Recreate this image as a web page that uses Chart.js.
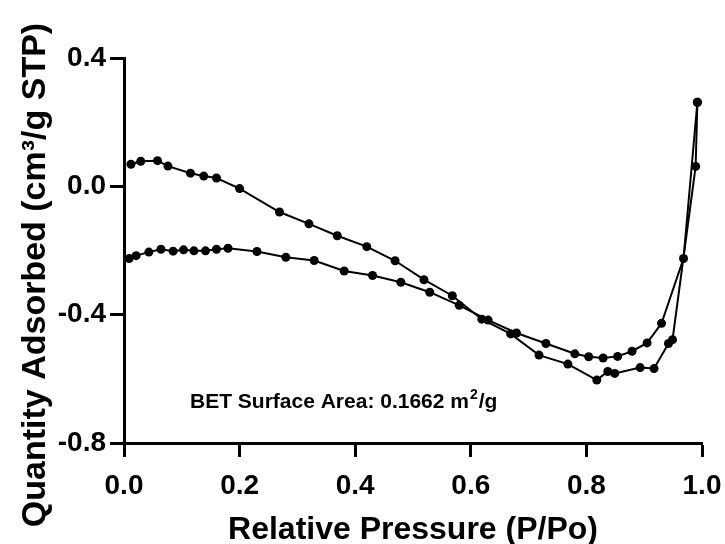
<!DOCTYPE html>
<html>
<head>
<meta charset="utf-8">
<script src="https://cdn.jsdelivr.net/npm/chart.js@4/dist/chart.umd.min.js"></script>
<style>
  body { margin: 0; background: #fff; }
  #chart { display: block; }
</style>
</head>
<body>
<canvas id="chart" width="725" height="544"></canvas>
<script>
// adsorption branch (low P -> high P)
const adsP = [0.009, 0.021, 0.043, 0.064, 0.085, 0.103, 0.121, 0.141, 0.160, 0.180,
  0.230, 0.280, 0.329, 0.381, 0.430, 0.479, 0.529, 0.580, 0.630, 0.679,
  0.730, 0.780, 0.804, 0.829, 0.854, 0.879, 0.905, 0.930, 0.968, 0.992];
const adsQ = [-0.225, -0.216, -0.205, -0.196, -0.202, -0.198, -0.201, -0.201, -0.196, -0.193,
  -0.203, -0.221, -0.231, -0.264, -0.278, -0.299, -0.330, -0.371, -0.417, -0.457,
  -0.490, -0.522, -0.531, -0.535, -0.530, -0.514, -0.488, -0.427, -0.225, 0.262];

// desorption branch (high P -> low P)
const desP = [0.992, 0.989, 0.949, 0.942, 0.917, 0.893, 0.849, 0.837, 0.818, 0.768,
  0.718, 0.669, 0.619, 0.568, 0.519, 0.469, 0.420, 0.369, 0.320, 0.269,
  0.200, 0.160, 0.138, 0.115, 0.076, 0.058, 0.029, 0.012];
const desQ = [0.262, 0.062, -0.478, -0.490, -0.568, -0.565, -0.583, -0.577, -0.604, -0.554,
  -0.526, -0.460, -0.414, -0.341, -0.291, -0.232, -0.188, -0.154, -0.117, -0.080,
  -0.007, 0.026, 0.032, 0.041, 0.063, 0.080, 0.078, 0.069];

const xTicks = [0, 0.2, 0.4, 0.6, 0.8, 1.0];
const yTicks = [-0.8, -0.4, 0.0, 0.4];

const FONT = '"Liberation Sans", Arial, sans-serif';

function pts(xs, ys) {
  return xs.map((x, i) => ({ x: x, y: ys[i] }));
}

const textPlugin = {
  id: 'texts',
  afterDraw(chart) {
    const ctx = chart.ctx;
    const area = chart.chartArea;
    ctx.save();
    ctx.fillStyle = '#000';

    // x title
    ctx.font = 'bold 32px ' + FONT;
    ctx.textAlign = 'center';
    ctx.textBaseline = 'alphabetic';
    ctx.fillText('Relative Pressure (P/Po)', (area.left + area.right) / 2, 539);

    // y title
    ctx.save();
    ctx.font = 'bold 34px ' + FONT;
    ctx.translate(45, 275);
    ctx.rotate(-Math.PI / 2);
    ctx.fillText('Quantity Adsorbed (cm\u00B3/g STP)', 0, 0);
    ctx.restore();

    // BET note
    ctx.textAlign = 'left';
    ctx.font = 'bold 21px ' + FONT;
    let x = 190;
    const y = 408;
    const s1 = 'BET Surface Area: 0.1662 m';
    ctx.fillText(s1, x, y);
    x += ctx.measureText(s1).width + 1;
    ctx.font = 'bold 14px ' + FONT;
    ctx.fillText('2', x, y - 9);
    x += ctx.measureText('2').width + 1;
    ctx.font = 'bold 21px ' + FONT;
    ctx.fillText('/g', x, y);
    ctx.restore();
  }
};

const axisCommon = {
  border: { display: true, color: '#000', width: 3 },
  grid: { drawOnChartArea: false, drawTicks: true, tickLength: 14, tickWidth: 3, color: '#000' }
};

new Chart(document.getElementById('chart').getContext('2d'), {
  type: 'scatter',
  data: {
    datasets: [
      {
        label: 'Adsorption',
        data: pts(adsP, adsQ),
        showLine: true,
        borderColor: '#000',
        backgroundColor: '#000',
        borderWidth: 2,
        pointRadius: 4.5,
        pointBorderWidth: 0,
        pointBackgroundColor: '#000'
      },
      {
        label: 'Desorption',
        data: pts(desP, desQ),
        showLine: true,
        borderColor: '#000',
        backgroundColor: '#000',
        borderWidth: 2,
        pointRadius: 4.5,
        pointBorderWidth: 0,
        pointBackgroundColor: '#000'
      }
    ]
  },
  options: {
    responsive: false,
    animation: false,
    clip: false,
    layout: { padding: { top: 58, right: 23, left: 0, bottom: 0 } },
    plugins: { legend: { display: false }, tooltip: { enabled: false } },
    scales: {
      x: {
        ...axisCommon,
        type: 'linear',
        min: 0,
        max: 1,
        afterBuildTicks: s => { s.ticks = xTicks.map(v => ({ value: v })); },
        afterFit: s => { s.height = 101; s.paddingLeft = 0; s.paddingRight = 0; },
        ticks: {
          color: '#000',
          padding: 12,
          font: { family: FONT, size: 28, weight: 'bold' },
          callback: v => v.toFixed(1)
        }
      },
      y: {
        ...axisCommon,
        type: 'linear',
        min: -0.8,
        max: 0.4,
        afterBuildTicks: s => { s.ticks = yTicks.map(v => ({ value: v })); },
        afterFit: s => { s.width = 124; s.paddingTop = 0; s.paddingBottom = 0; },
        ticks: {
          color: '#000',
          padding: 4,
          font: { family: FONT, size: 28, weight: 'bold' },
          callback: v => v.toFixed(1)
        }
      }
    }
  },
  plugins: [textPlugin]
});
</script>
</body>
</html>
